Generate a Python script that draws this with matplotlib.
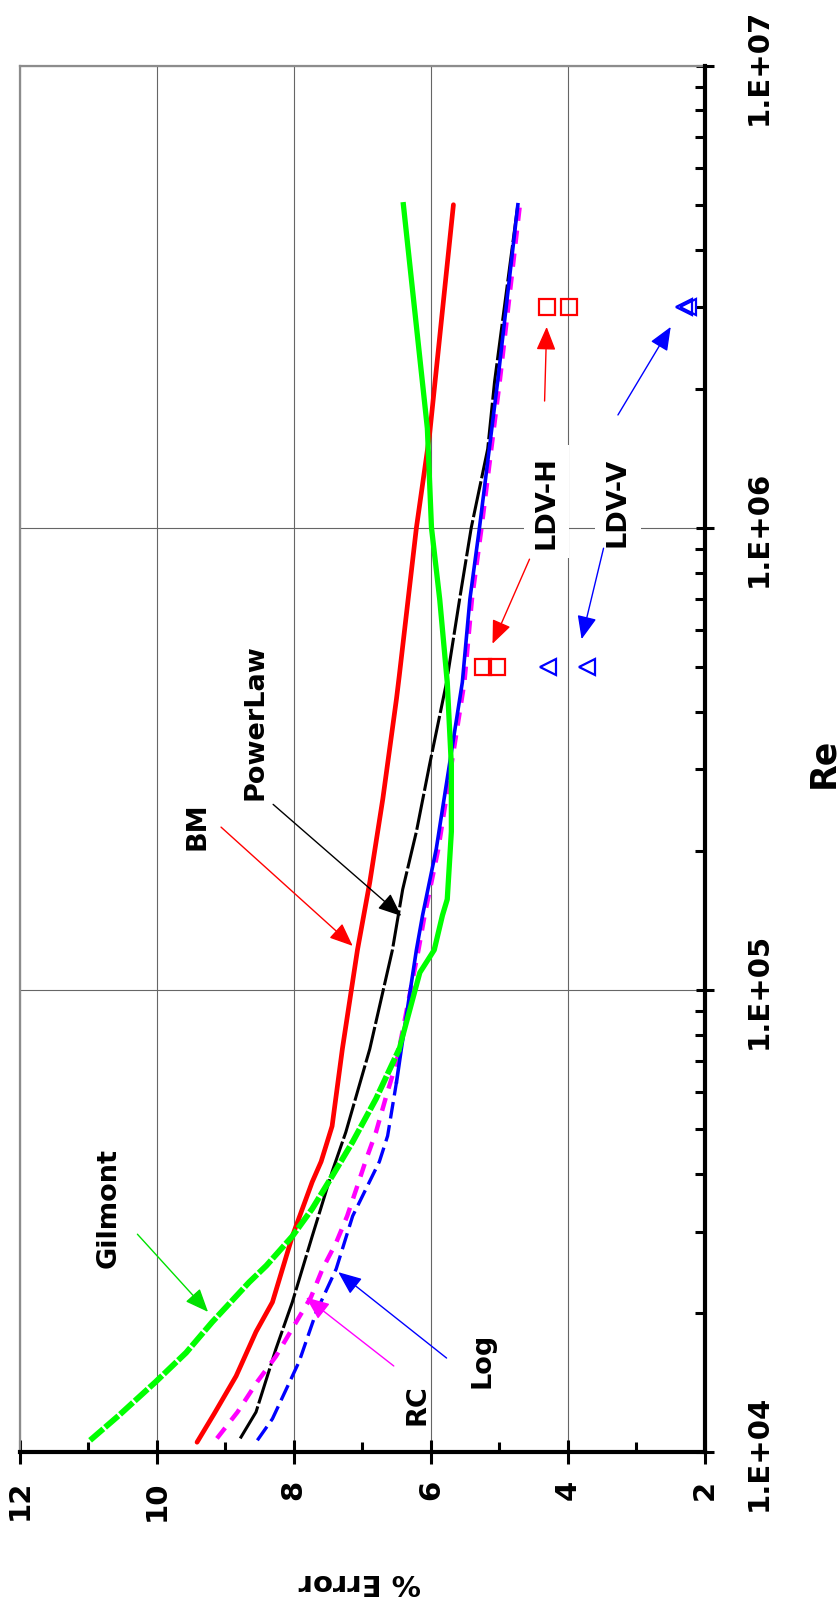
import numpy as np
import matplotlib
matplotlib.use('Agg')
import matplotlib.pyplot as plt
from matplotlib.ticker import MultipleLocator, LogLocator, FixedLocator, NullFormatter

plt.rcParams['font.family'] = ['DejaVu Sans']
plt.rcParams['font.weight'] = 'bold'

# --- data (Re, % error) ---
bm_re = [1.05e4, 1.21e4, 1.46e4, 1.82e4, 2.11e4, 2.93e4, 3.84e4, 4.25e4, 5.07e4, 7.45e4,
         1.22e5, 1.71e5, 2.59e5, 4.27e5, 4.78e5, 1.0e6, 1.58e6, 5.0e6]
bm_err = [9.41, 9.16, 8.84, 8.55, 8.31, 8.02, 7.73, 7.60, 7.44, 7.29,
          7.07, 6.89, 6.70, 6.50, 6.46, 6.21, 6.02, 5.67]

pl_re = [1.07e4, 1.22e4, 1.67e4, 2.11e4, 2.93e4, 4.04e4, 4.92e4, 7.45e4, 1.22e5, 1.65e5,
         2.20e5, 3.06e5, 4.63e5, 7.0e5, 1.0e6, 1.48e6, 2.07e6, 5.0e6]
pl_err = [8.78, 8.55, 8.26, 8.02, 7.73, 7.44, 7.24, 6.89, 6.56, 6.41,
          6.21, 6.02, 5.77, 5.58, 5.41, 5.17, 5.07, 4.73]

log_re = [1.06e4, 1.18e4, 1.57e4, 2.01e4, 2.49e4, 3.24e4, 4.25e4, 4.83e4, 6.32e4, 7.45e4,
          1.22e5, 1.45e5, 2.02e5, 3.06e5, 4.63e5, 7.0e5, 1.0e6, 2.1e6, 5.0e6]
log_err = [8.53, 8.31, 7.92, 7.67, 7.38, 7.14, 6.75, 6.63, 6.50, 6.43,
           6.21, 6.12, 5.92, 5.73, 5.54, 5.43, 5.29, 5.02, 4.73]
log_split = 8  # dashed below this index, solid above

rc_re = [1.07e4, 1.22e4, 1.42e4, 1.61e4, 1.85e4, 2.16e4, 2.49e4, 2.84e4, 3.24e4, 3.77e4,
         4.31e4, 4.92e4, 5.89e4, 6.98e4, 1.22e5, 1.45e5, 2.02e5, 3.06e5, 4.63e5, 7.0e5,
         1.0e6, 2.1e6, 5.0e6]
rc_err = [9.12, 8.82, 8.53, 8.26, 8.02, 7.75, 7.58, 7.38, 7.22, 7.07,
          6.94, 6.80, 6.65, 6.50, 6.18, 6.09, 5.89, 5.70, 5.51, 5.40,
          5.26, 4.99, 4.70]

gil_re = [1.06e4, 1.20e4, 1.42e4, 1.64e4, 1.91e4, 2.33e4, 2.53e4, 2.93e4, 3.36e4, 3.95e4,
          4.69e4, 5.81e4, 7.45e4, 1.09e5, 1.22e5, 1.45e5, 1.57e5, 2.20e5, 3.06e5, 4.63e5,
          7.0e5, 1.0e6, 1.64e6, 5.0e6]
gil_err = [10.97, 10.55, 10.01, 9.57, 9.19, 8.65, 8.40, 8.02, 7.73, 7.44,
           7.14, 6.80, 6.46, 6.16, 5.95, 5.83, 5.76, 5.70, 5.70, 5.76,
           5.87, 5.99, 6.05, 6.40]
gil_split = 12

ldvh_re = [5.0e5, 5.0e5, 3.0e6, 3.0e6]
ldvh_err = [5.24, 5.04, 4.30, 3.99]
ldvv_re = [5.0e5, 5.0e5, 3.0e6, 3.0e6]
ldvv_err = [4.29, 3.72, 2.30, 2.25]

xticks = [12, 10, 8, 6, 4, 2]
yticks = [1e4, 1e5, 1e6, 1e7]
ytick_labels = ['1.E+04', '1.E+05', '1.E+06', '1.E+07']

fig = plt.figure(figsize=(8.38, 16.06), dpi=100)
ax = fig.add_axes([19.5 / 838, 153 / 1606, 685.5 / 838, 1386.4 / 1606])

ax.plot(bm_err, bm_re, color='red', lw=3.4, solid_capstyle='round', zorder=3)
ax.plot(pl_err, pl_re, color='black', lw=2.2, dashes=(12, 1), zorder=3)
ax.plot(rc_err, rc_re, color='magenta', lw=3.2, dashes=(3, 2.2), zorder=4)
ax.plot(log_err[:log_split + 1], log_re[:log_split + 1], color='blue', lw=2.4, dashes=(5, 2), zorder=5)
ax.plot(log_err[log_split:], log_re[log_split:], color='blue', lw=2.6, zorder=5)
ax.plot(gil_err[:gil_split + 1], gil_re[:gil_split + 1], color='#00ff00', lw=4.2, dashes=(3, 0.4), zorder=6)
ax.plot(gil_err[gil_split:], gil_re[gil_split:], color='#00ff00', lw=3.8, zorder=6)

ax.plot(ldvh_err, ldvh_re, ls='none', marker='s', ms=11, mfc='none', mec='red', mew=1.6, zorder=7)
ax.plot(ldvv_err, ldvv_re, ls='none', marker='<', ms=11.5, mfc='none', mec='blue', mew=1.6,
        zorder=7, clip_on=False)

ax.set_yscale('log')
ax.set_xlim(12, 2)
ax.set_ylim(1e4, 1e7)

ax.xaxis.set_major_locator(FixedLocator(xticks))
ax.xaxis.set_minor_locator(MultipleLocator(1))
ax.set_xticklabels([str(t) for t in xticks])
ax.yaxis.tick_right()
ax.yaxis.set_major_locator(FixedLocator(yticks))
ax.yaxis.set_minor_locator(LogLocator(base=10, subs=np.arange(2, 10)))
ax.yaxis.set_minor_formatter(NullFormatter())
ax.set_yticklabels(ytick_labels)

ax.tick_params(axis='x', which='major', direction='inout', length=17, width=2.2, pad=11,
               labelsize=21, labelrotation=90)
ax.tick_params(axis='x', which='minor', direction='in', length=7, width=2.2)
ax.tick_params(axis='y', which='major', direction='inout', length=13, width=2.2, pad=22,
               labelsize=21, labelrotation=90)
ax.tick_params(axis='y', which='minor', direction='in', length=7, width=2.2)
for lab in ax.get_yticklabels():
    lab.set_va('center')
    lab.set_ha('left')

ax.grid(True, which='major', color='0.4', lw=0.8)
ax.set_axisbelow(True)

for s in ['right', 'bottom']:
    ax.spines[s].set_linewidth(3)
    ax.spines[s].set_zorder(8)
for s in ['left', 'top']:
    ax.spines[s].set_linewidth(1.6)
    ax.spines[s].set_color('0.55')

ax.set_xlabel('% Error', fontsize=21, fontweight='bold', rotation=180)
ax.xaxis.set_label_coords(0.497, -0.093)
ax.xaxis.label.set_va('center')
ax.yaxis.set_label_position('right')
ax.set_ylabel('Re', fontsize=25, fontweight='bold', rotation=90)
ax.yaxis.set_label_coords(1.172, 0.498)
ax.yaxis.label.set_va('center')
ax.yaxis.label.set_ha('center')

# curve labels
labels = [
    ('BM', 9.41, 2.27e5),
    ('PowerLaw', 8.56, 3.82e5),
    ('Gilmont', 10.70, 3.39e4),
    ('RC', 6.20, 1.27e4),
    ('Log', 5.25, 1.59e4),
]
for txt, x, y in labels:
    ax.text(x, y, txt, rotation=90, ha='center', va='center', fontsize=19.5, fontweight='bold', zorder=9)
for txt, x, y in [('LDV-H', 4.31, 1.14e6), ('LDV-V', 3.27, 1.14e6)]:
    ax.text(x, y, txt, rotation=90, ha='center', va='center', fontsize=19.5, fontweight='bold', zorder=9,
            bbox=dict(facecolor='white', edgecolor='none', pad=7))

# arrows: (color, tail, head)
arrows = [
    ('red', (9.06, 2.25e5), (7.14, 1.245e5)),
    ('black', (8.30, 2.52e5), (6.43, 1.445e5)),
    ('#00e000', (10.28, 2.96e4), (9.25, 2.01e4)),
    ('magenta', (6.54, 1.535e4), (7.82, 2.16e4)),
    ('blue', (5.77, 1.597e4), (7.35, 2.45e4)),
    ('red', (4.34, 1.88e6), (4.31, 2.72e6)),
    ('red', (4.56, 8.55e5), (5.10, 5.61e5)),
    ('blue', (3.27, 1.754e6), (2.50, 2.72e6)),
    ('blue', (3.48, 9.03e5), (3.80, 5.74e5)),
]
for c, tail, head in arrows:
    ax.annotate('', xy=head, xytext=tail, zorder=9,
                arrowprops=dict(arrowstyle='-|>,head_length=0.72,head_width=0.3', mutation_scale=20,
                                color=c, lw=1.0, shrinkA=0, shrinkB=0))

fig.savefig('out.png', dpi=100)
